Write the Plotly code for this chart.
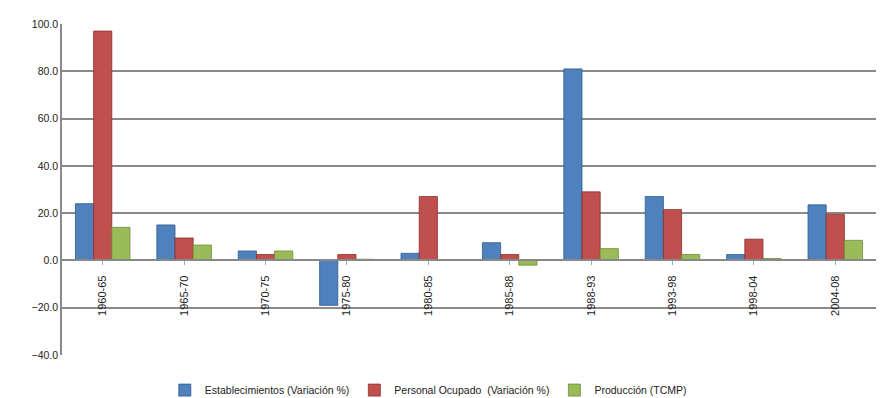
import plotly.graph_objects as go

categories = ["1960-65", "1965-70", "1970-75", "1975-80", "1980-85",
              "1985-88", "1988-93", "1993-98", "1998-04", "2004-08"]
establecimientos = [24.0, 15.0, 4.0, -19.0, 3.0, 7.5, 81.0, 27.0, 2.5, 23.5]
personal = [97.0, 9.5, 2.5, 2.5, 27.0, 2.5, 29.0, 21.5, 9.0, 19.5]
produccion = [14.0, 6.5, 4.0, 0.5, 0.3, -2.0, 5.0, 2.5, 0.8, 8.5]

series_names = ["Establecimientos (Variación %)",
                "Personal Ocupado\u00a0 (Variación %)",
                "Producción (TCMP)"]
series_values = [establecimientos, personal, produccion]
colors = ["#4F81BD", "#C0504D", "#9BBB59"]
edge_colors = ["#2F5A8C", "#8C2E2C", "#6E8A38"]

y_ticks = [-40, -20, 0, 20, 40, 60, 80, 100]

fig = go.Figure()
for name, vals, c, ec in zip(series_names, series_values, colors, edge_colors):
    fig.add_trace(go.Bar(
        x=categories, y=vals, name=name,
        marker=dict(color=c, line=dict(color=ec, width=0.8)),
    ))

y_min, y_max = -40, 100
zero_pos = (0 - y_min) / (y_max - y_min)

fig.update_layout(
    width=880, height=398,
    margin=dict(l=62, r=4, t=24, b=43, autoexpand=False),
    paper_bgcolor="white", plot_bgcolor="white",
    barmode="group", bargap=0.33, bargroupgap=0.0,
    font=dict(family="Liberation Sans, Arial, sans-serif", size=11, color="#222"),
    showlegend=True,
    legend=dict(orientation="h", x=0.45, xanchor="center", y=-0.106, yanchor="middle",
                font=dict(size=10.5, color="#222"), itemwidth=30, tracegroupgap=0),
    xaxis=dict(
        type="category", anchor="free", position=zero_pos,
        tickangle=-90, showgrid=False, showline=True, linecolor="#888", linewidth=1.5,
        ticks="outside", ticklen=4, tickcolor="#aaa", ticklabelstandoff=6,
        tickfont=dict(size=11, color="#222"),
    ),
    yaxis=dict(
        range=[y_min, y_max], tickvals=y_ticks, tickformat=".1f",
        showgrid=True, gridcolor="#8a8a8a", gridwidth=1.6,
        zeroline=False, showline=True, linecolor="#8a8a8a", linewidth=1.6,
        ticks="", tickfont=dict(size=10.5, color="#222"),
    ),
)

fig.write_html("out.html")
